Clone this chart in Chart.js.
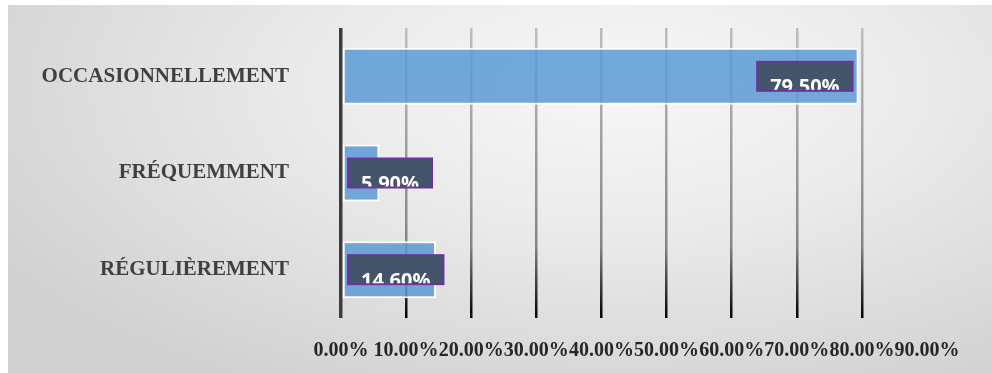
<!DOCTYPE html>
<html>
<head>
<meta charset="utf-8">
<script src="https://cdn.jsdelivr.net/npm/chart.js@4/dist/chart.umd.min.js"></script>
<style>
    html, body { margin: 0; padding: 0; background: #fff; }
    #wrap { position: relative; width: 992px; height: 373px; }
    #panel {
        position: absolute; left: 8px; top: 5px; right: 0; bottom: 0;
        background: radial-gradient(ellipse 75% 95% at 62% 22%, #f7f7f7 0%, #ebebeb 40%, #d0d0d0 100%);
    }
    #chart { position: absolute; left: 0; top: 0; }
</style>
</head>
<body>
<div id="wrap">
    <div id="panel"></div>
    <canvas id="chart" width="992" height="373"></canvas>
</div>
<script>
const categories = ['OCCASIONNELLEMENT', 'FRÉQUEMMENT', 'RÉGULIÈREMENT'];
const percentages = [79.5, 5.9, 14.6];
const valueLabels = ['79.50%', '5.90%', '14.60%'];
const axisMax = 90;
const axisStep = 10;

// grid lines fade from light grey at the top to black at the bottom
const gridColor = (ctx) => {
    if (ctx.tick && ctx.tick.value === 0) return '#3c3c3c';
    if (ctx.tick && ctx.tick.value === axisMax) return 'rgba(0,0,0,0)';
    const area = ctx.chart.chartArea;
    if (!area) return '#999';
    const g = ctx.chart.ctx.createLinearGradient(0, area.top, 0, area.bottom);
    g.addColorStop(0, '#bdbdbd');
    g.addColorStop(0.75, '#858585');
    g.addColorStop(1, '#000000');
    return g;
};

const boxLabels = {
    id: 'boxLabels',
    afterDatasetsDraw(chart) {
        const ctx = chart.ctx;
        const meta = chart.getDatasetMeta(0);
        const base = chart.scales.x.getPixelForValue(0);
        ctx.save();
        ctx.font = 'bold 20px "Open Sans"';
        meta.data.forEach((bar, i) => {
            const text = valueLabels[i];
            const w = ctx.measureText(text).width + 26;
            const h = 29;
            let left = bar.x - 6 - w;
            if (left < base + 7) left = base + 7;
            const top = bar.y - h / 2;

            ctx.fillStyle = '#44546A';
            ctx.fillRect(left, top, w, h);
            ctx.lineWidth = 2;
            ctx.strokeStyle = '#7030A0';
            ctx.strokeRect(left, top, w, h);

            ctx.save();
            ctx.beginPath();
            ctx.rect(left, top, w, h - 1);
            ctx.clip();
            ctx.fillStyle = '#ffffff';
            ctx.textAlign = 'center';
            ctx.textBaseline = 'alphabetic';
            ctx.fillText(text, left + w / 2, bar.y + 17);
            ctx.restore();
        });
        ctx.restore();
    }
};

new Chart(document.getElementById('chart'), {
    type: 'bar',
    data: {
        labels: categories,
        datasets: [{
            data: percentages,
            backgroundColor: 'rgba(91, 155, 213, 0.85)',
            borderColor: '#ffffff',
            borderWidth: 2,
            borderSkipped: false,
            barPercentage: 0.59,
            categoryPercentage: 1
        }]
    },
    options: {
        indexAxis: 'y',
        responsive: false,
        animation: false,
        layout: { padding: { top: 28, right: 65, bottom: 0, left: 0 } },
        scales: {
            x: {
                min: 0,
                max: axisMax,
                border: { display: false },
                grid: { color: gridColor, lineWidth: (c) => c.tick && c.tick.value === 0 ? 3.5 : 2.5, drawTicks: false },
                ticks: {
                    stepSize: axisStep,
                    autoSkip: false,
                    maxRotation: 0,
                    padding: 21,
                    color: '#262626',
                    font: { family: '"Liberation Serif"', weight: 'bold', size: 20 },
                    callback: (value) => value.toFixed(2) + '%'
                },
                afterFit: (scale) => { scale.height = 55; }
            },
            y: {
                border: { display: false },
                grid: { display: false },
                ticks: {
                    padding: 44,
                    color: '#404040',
                    font: { family: '"Liberation Serif"', weight: 'bold', size: 21 }
                },
                afterFit: (scale) => {
                    scale.width = 341;
                    scale.paddingTop = 0;
                    scale.paddingBottom = 0;
                }
            }
        },
        plugins: {
            legend: { display: false },
            tooltip: { enabled: false }
        }
    },
    plugins: [boxLabels]
});
</script>
</body>
</html>
